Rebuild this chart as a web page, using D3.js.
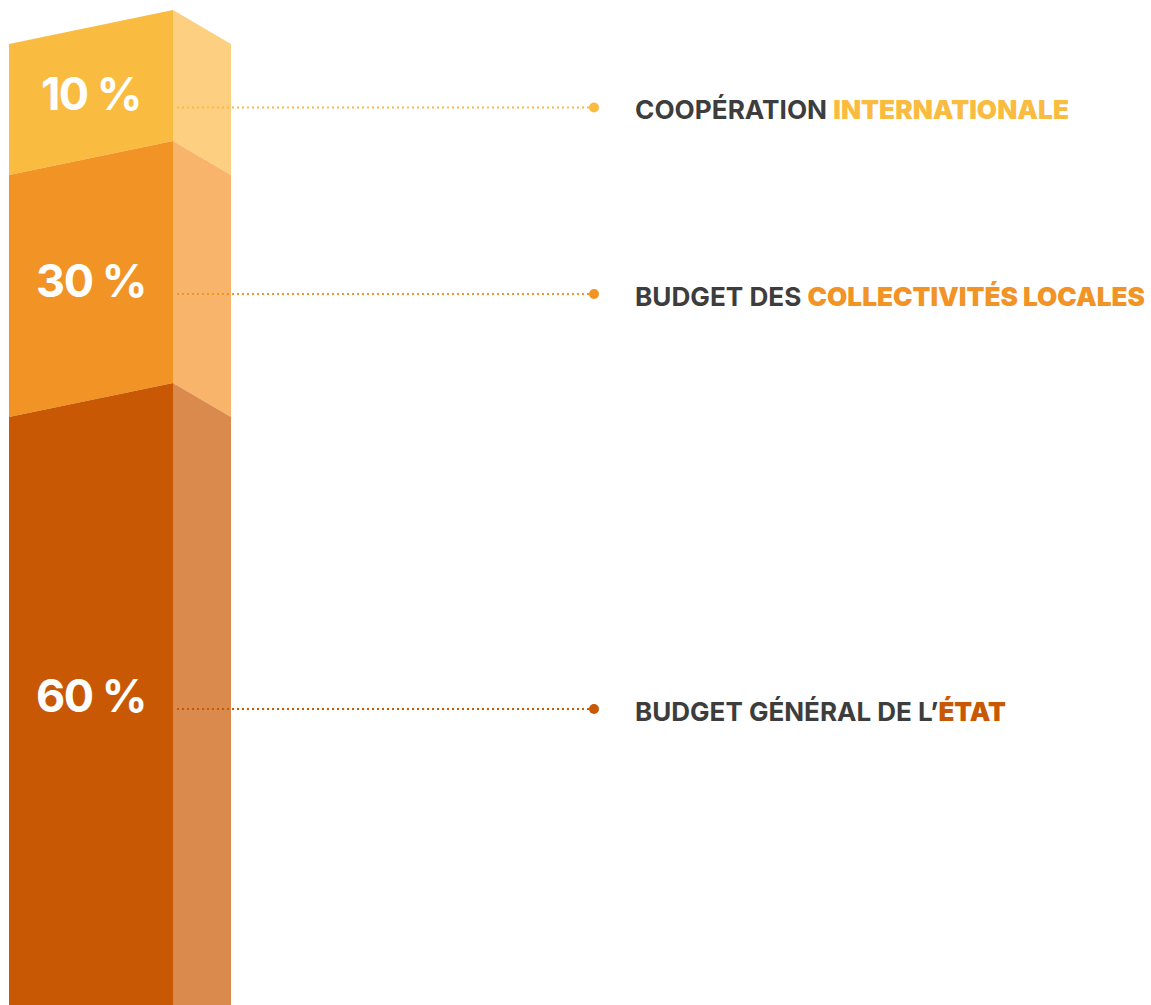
<!DOCTYPE html>
<html>
<head>
<meta charset="utf-8">
<script src="https://cdn.jsdelivr.net/npm/d3@7"></script>
<style>
  html, body { margin: 0; padding: 0; background: #fff; }
  svg { display: block; }
</style>
</head>
<body>
<div id="chart"></div>
<script>
// parts du budget, de haut en bas
const shares = [10, 30, 60];
const shareLabels = ['10 %', '30 %', '60 %'];
const namePlain = ['COOPÉRATION ', 'BUDGET DES ', 'BUDGET GÉNÉRAL DE L’'];
const nameStrong = ['INTERNATIONALE', 'COLLECTIVITÉS LOCALES', 'ÉTAT'];
const frontColors = ['#FABB41', '#F29325', '#C85803'];
const sideColors = ['#FCD080', '#F9B46C', '#DB8A4E'];
const nameWidths = [434, 510, 371];

const width = 1151, height = 1005;
const x0 = 9, xMid = 173, x1 = 231, skew = 34;

const svg = d3.select('#chart').append('svg')
  .attr('width', width)
  .attr('height', height);

// cumul
let acc = 0;
const segs = shares.map((v, i) => {
  const s = { i, start: acc, end: acc + v };
  acc += v;
  return s;
});

// échelle non linéaire, comme dans l'original
const y = d3.scalePow().exponent(0.755)
  .domain([0, 100])
  .range([10, 755]);

const isLast = d => d.i === segs.length - 1;
const yTop = d => y(d.start);
const yBot = d => isLast(d) ? height + 10 : y(d.end);
const yBotEdge = d => isLast(d) ? height + 10 : y(d.end) + skew;

const line = d3.line();

const g = svg.append('g');

g.selectAll('path.front')
  .data(segs)
  .join('path')
  .attr('class', 'front')
  .attr('fill', d => frontColors[d.i])
  .attr('d', d => line([[x0, yTop(d) + skew], [xMid, yTop(d)], [xMid, yBot(d)], [x0, yBotEdge(d)]]) + 'Z');

g.selectAll('path.side')
  .data(segs)
  .join('path')
  .attr('class', 'side')
  .attr('fill', d => sideColors[d.i])
  .attr('d', d => line([[xMid, yTop(d)], [x1, yTop(d) + skew], [x1, yBotEdge(d)], [xMid, yBot(d)]]) + 'Z');

// milieu du segment sur le bord gauche
const leaderY = d => (yTop(d) + skew + Math.min(yBotEdge(d), height)) / 2 - 2;

// pourcentages
g.selectAll('text.pct')
  .data(segs)
  .join('text')
  .attr('class', 'pct')
  .attr('x', 91)
  .attr('y', d => leaderY(d) + 3)
  .attr('text-anchor', 'middle')
  .attr('fill', '#fff')
  .style('font-family', 'Inter, Lato, sans-serif')
  .style('font-weight', 700)
  .style('font-size', '45px')
  .style('letter-spacing', '-1.5px')
  .text(d => shareLabels[d.i]);

// lignes pointillées
g.selectAll('line.leader')
  .data(segs)
  .join('line')
  .attr('class', 'leader')
  .attr('x1', 177)
  .attr('x2', 594)
  .attr('y1', leaderY)
  .attr('y2', leaderY)
  .attr('stroke', d => frontColors[d.i])
  .attr('stroke-width', 2)
  .attr('stroke-dasharray', '2 3');

g.selectAll('circle.dot')
  .data(segs)
  .join('circle')
  .attr('class', 'dot')
  .attr('cx', 594)
  .attr('cy', leaderY)
  .attr('r', 5)
  .attr('fill', d => frontColors[d.i]);

// libellés
const names = g.selectAll('text.name')
  .data(segs)
  .join('text')
  .attr('class', 'name')
  .attr('x', 635)
  .attr('y', d => leaderY(d) + 12)
  .style('font-family', 'Inter, Lato, sans-serif')
  .style('font-size', '26px')
  .attr('textLength', d => nameWidths[d.i])
  .attr('lengthAdjust', 'spacingAndGlyphs');

names.append('tspan')
  .attr('fill', '#3D3D3D')
  .style('font-weight', 700)
  .text(d => namePlain[d.i]);
names.append('tspan')
  .attr('fill', d => frontColors[d.i])
  .style('font-weight', 900)
  .text(d => nameStrong[d.i]);
</script>
</body>
</html>
